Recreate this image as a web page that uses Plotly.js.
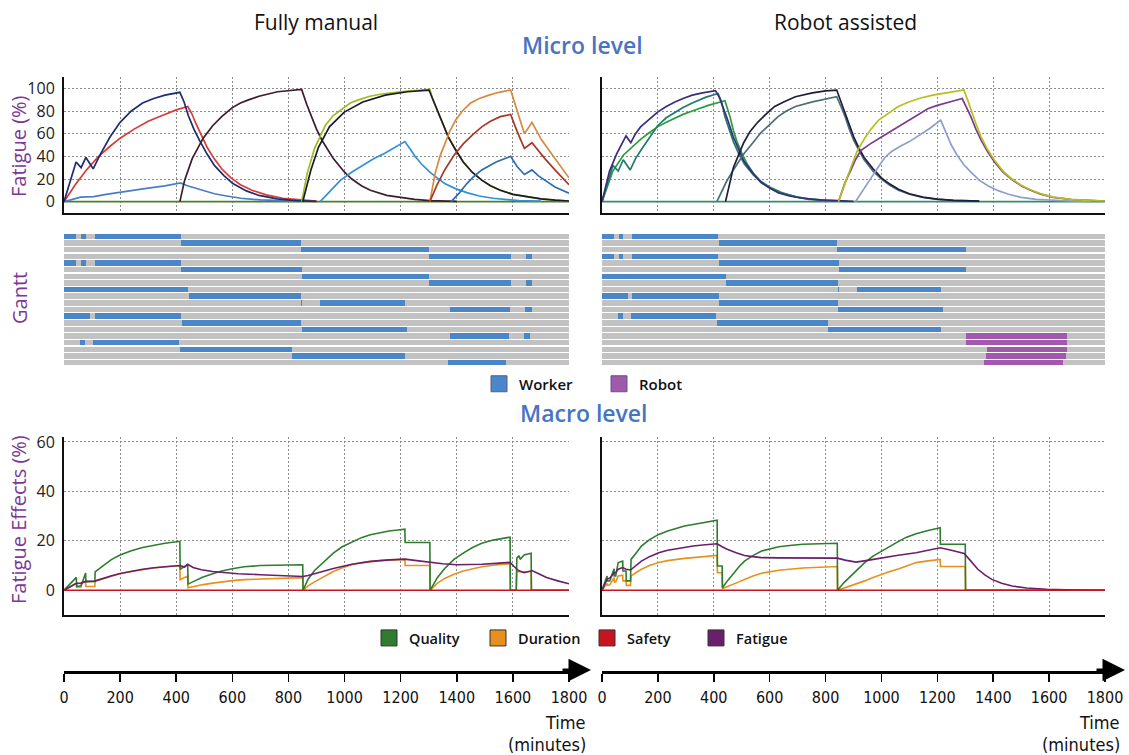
<!DOCTYPE html>
<html><head><meta charset="utf-8">
<script src="https://cdn.plot.ly/plotly-3.0.1.min.js"></script>
<style>html,body{margin:0;padding:0;background:#fff}#chart{width:1129px;height:755px}</style>
</head><body><div id="chart"></div>
<script>
// ---------- Micro level: fatigue per worker, fully manual (time min, fatigue %) ----------
const manualF1 = [[0,0],[43,35],[61,30],[78,39],[104,29],[128,41],[164,57],[200,70],[240,80],[280,87],[320,91],[360,94],[413,96.5],[428,88],[443,76],[463,64],[483,54],[510,42],[536,32],[570,23],[602,16],[650,9.5],[695,5.5],[760,2.5],[827,1],[900,0.3]];
const manualF2 = [[0,0],[40,15],[80,28],[120,39],[160,48],[200,56],[250,64],[300,71],[350,76],[400,81],[441,84],[455,78],[470,69],[490,58],[510,48],[535,38],[562,29],[595,21],[629,15],[670,10],[721,6],[780,3],[840,1.5],[900,0.5]];
const manualF3 = [[0,0],[40,2.5],[60,4],[80,4.2],[106,4.5],[150,6.5],[200,8.5],[250,10.5],[300,12],[360,14],[415,16.5],[440,14],[470,12],[500,9.5],[536,7],[580,5],[630,3],[700,1.5],[780,0.5],[850,0.2]];
const manualF4 = [[413,0],[430,19],[457,38],[496,56],[530,67],[562,75],[600,83],[629,87],[660,90],[695,93],[761,97],[847,99],[865,86],[880,76],[900,64],[920,54],[960,38],[1000,26],[1026,20],[1060,14],[1092,10],[1150,5.5],[1198,3.5],[1250,2],[1304,1],[1400,0.3]];
const manualF5 = [[847,0],[867,25],[893,47],[933,68],[960,76],[986,81],[1020,87],[1052,90],[1090,93],[1132,95],[1180,96.5],[1224,97.6],[1260,98.3],[1304,99],[1315,90],[1330,81],[1350,68],[1370,57],[1395,46],[1423,35],[1455,26],[1489,19],[1520,14],[1555,10],[1600,6.5],[1648,4.4],[1700,2.5],[1750,1.3],[1800,0.6]];
const manualF6 = [[851,0],[880,28],[907,48],[946,66],[999,79],[1065,88],[1145,94],[1224,97],[1301,98.5],[1315,90],[1330,81],[1350,68],[1370,57],[1395,46],[1423,35],[1455,26],[1489,19],[1520,14],[1555,10],[1600,6.5],[1648,4.4],[1700,2.5],[1750,1.3],[1800,0.6]];
const manualF7 = [[913,0],[950,10],[986,19],[1025,26],[1065,32],[1105,38],[1145,43],[1180,48],[1215,53],[1235,46],[1251,40],[1275,33],[1304,26],[1330,21],[1357,16],[1395,11.5],[1436,8],[1480,5],[1529,3],[1580,1.8],[1621,1],[1700,0.4]];
const manualF8 = [[1304,0],[1315,15],[1323,25],[1340,40],[1357,51],[1375,62],[1396,72],[1420,80],[1449,87],[1480,91],[1515,94],[1550,96.5],[1592,98.5],[1605,88],[1620,75],[1641,60],[1668,70],[1685,62],[1701,55],[1730,45],[1754,37],[1780,28],[1800,21]];
const manualF9 = [[1304,0],[1330,15],[1357,28],[1390,41],[1423,51],[1456,59],[1489,66],[1520,71],[1555,75],[1592,77],[1615,62],[1641,47],[1668,52],[1690,45],[1714,38],[1750,28],[1800,15]];
const manualF10 = [[1380,0],[1410,8],[1436,16],[1460,22],[1489,28],[1540,35],[1592,40],[1615,31],[1641,24],[1668,28],[1690,23],[1714,19],[1750,13],[1800,7.5]];
const manualBase = [[0,0],[1800,0]];

// ---------- Micro level: fatigue, robot assisted ----------
const robotF1 = [[0,0],[27,27],[52,42],[70,51],[86,58],[103,52],[120,60],[138,66],[170,73],[199,79],[230,84],[261,88],[290,91],[323,94],[360,96],[406,98],[420,92],[433,84],[450,72],[470,57],[490,45],[507,36],[540,25],[569,17],[600,12],[630,8],[670,5],[717,3],[780,1.5],[840,0.6],[900,0.2]];
const robotF2 = [[0,0],[39,32],[58,27],[76,37],[101,28],[120,38],[138,45],[170,57],[199,67],[230,74],[261,79],[290,83],[323,87],[370,92],[415,95.5],[428,88],[440,75],[455,63],[470,53],[490,42],[510,33],[540,24],[569,17],[600,12],[643,7.5],[700,4],[741,2.5],[800,1.2],[870,0.4]];
const robotF3 = [[0,0],[39,27],[76,41],[110,49],[138,55],[170,61],[199,66],[230,70],[261,74],[290,77],[323,80],[380,85],[440,89],[450,82],[458,75],[470,63],[483,53],[500,43],[520,33],[545,24],[569,18],[600,13],[643,8],[690,4.5],[741,2],[800,1],[880,0.3]];
const robotF4 = [[442,0],[455,15],[470,30],[490,42],[507,52],[530,62],[557,70],[590,78],[618,84],[650,88],[692,92.6],[753,96],[800,97.8],[840,98.5],[855,88],[870,78],[885,67],[901,57],[920,47],[938,39],[970,29],[1000,21],[1030,15.5],[1061,11],[1100,7],[1148,4],[1200,2.2],[1258,1.2],[1350,0.4]];
const robotF5 = [[411,0],[430,10],[446,18],[470,28],[507,42],[540,52],[569,61],[600,68],[630,75],[660,80],[692,84],[753,88],[800,90.5],[840,92.6],[855,84],[870,75],[885,64],[901,54],[920,45],[938,37],[970,27],[1000,20],[1030,14.5],[1061,10],[1100,6.5],[1148,3.7],[1200,2],[1258,1.1],[1350,0.4]];
const robotF6 = [[846,0],[860,10],[877,21],[895,33],[914,45],[940,56],[963,64],[990,72],[1024,78],[1060,84],[1098,88],[1140,91.5],[1184,94],[1240,96.5],[1295,98.5],[1308,90],[1320,81],[1338,69],[1357,57],[1380,46],[1406,36],[1435,27],[1467,20],[1500,14.5],[1529,11],[1570,7],[1615,4],[1680,2],[1738,1.2],[1800,0.6]];
const robotF7 = [[846,0],[870,17],[889,27],[907,37],[926,45],[960,51],[1000,57],[1040,63],[1086,70],[1125,76],[1166,82],[1200,85],[1234,87],[1260,89],[1289,91],[1305,83],[1320,75],[1338,64],[1357,54],[1380,44],[1406,34.5],[1435,26],[1467,19.5],[1500,14],[1529,10.5],[1570,6.7],[1615,3.8],[1680,1.9],[1738,1.1],[1800,0.5]];
const robotF8 = [[907,0],[935,10],[963,21],[990,31],[1012,39],[1035,44],[1061,48],[1100,53],[1135,58.5],[1175,65],[1212,72],[1222,66],[1234,58.5],[1250,50],[1271,41],[1295,32.5],[1320,26],[1350,19],[1381,14],[1420,9.5],[1455,6.5],[1500,3.8],[1554,2],[1610,1.1],[1677,0.6],[1750,0.3]];
const robotBase = [[0,0],[1800,0]];

// ---------- Gantt (row, start, end in minutes) ----------
const ganttRows = [1,2,3,4,5,6,7,8,9,10,11,12,13,14,15,16,17,18,19,20];
const ganttHorizon = 1800;
const manualRow   = [1,1,1,2,3,4,4,5,5,5,6,7,8,8,9,10,11,11,12,12,13,13,14,15,16,16,17,17,18,19,20];
const manualStart = [0,61,110,417,844,1302,1645,0,61,110,417,850,1302,1645,0,444,844,912,1377,1644,0,110,419,848,1375,1640,58,104,412,812,1368];
const manualEnd   = [44,77,416,843,1302,1593,1668,44,77,416,850,1302,1593,1668,442,845,850,1216,1590,1667,91,417,846,1223,1587,1661,74,411,811,1216,1577];
const robotWorkerRow   = [1,1,1,2,3,4,4,4,5,6,7,8,9,9,10,10,11,12,13,13,14,15];
const robotWorkerStart = [0,62,108,417,842,0,62,108,417,848,0,444,843,912,0,108,417,846,59,105,410,810];
const robotWorkerEnd   = [43,76,416,841,1301,43,76,416,848,1301,444,843,849,1214,92,417,846,1221,75,409,810,1214];
const robotTaskRow   = [16,17,18,19,20];
const robotTaskStart = [1301,1301,1377,1374,1366];
const robotTaskEnd   = [1665,1665,1665,1661,1650];

// ---------- Macro level: fatigue effects (%) ----------
const manualQuality = [[0,0],[44,5.2],[45,1.5],[61,1.8],[77,7],[78,3.5],[110,3.6],[111,7.4],[140,10],[170,12.5],[200,14.3],[240,16],[280,17.3],[320,18.3],[360,19],[413,19.8],[414,8.5],[441,10.5],[442,2.5],[470,4],[496,5.4],[530,6.7],[562,7.8],[600,8.7],[642,9.5],[700,10],[760,10.2],[851,10.3],[852,0],[870,4.5],[893,8],[925,11.5],[960,15],[990,17.5],[1026,19.6],[1060,21.3],[1092,22.5],[1125,23.3],[1158,24],[1190,24.4],[1215,24.7],[1216,19.3],[1304,19.3],[1305,0],[1330,5],[1357,8.8],[1390,12.5],[1423,15],[1456,17.3],[1489,19],[1530,20.3],[1590,21.5],[1591,0],[1612,0],[1614,13],[1622,14],[1626,12.5],[1640,14.3],[1665,15],[1666,0],[1800,0]];
const manualDuration = [[0,0],[44,2.8],[45,1.3],[61,1.3],[62,2.9],[77,3.5],[78,1.5],[110,1.5],[111,3.8],[140,4.8],[170,5.8],[200,6.7],[240,7.6],[280,8.4],[320,9],[360,9.5],[413,9.9],[414,4.3],[441,5.8],[442,1],[470,1.7],[496,2.3],[530,2.9],[562,3.4],[600,3.9],[642,4.3],[700,4.6],[760,4.9],[851,5.1],[852,0],[870,1.8],[893,3.4],[925,5.5],[960,7.6],[990,9],[1026,10.3],[1060,11.1],[1092,11.6],[1125,12],[1158,12.2],[1215,12.5],[1216,10],[1304,10],[1305,0],[1330,2.8],[1357,4.8],[1390,6.5],[1423,7.8],[1456,8.8],[1489,9.5],[1530,10.1],[1590,10.8],[1591,0],[1612,0],[1614,7.5],[1665,7.5],[1666,0],[1800,0]];
const manualSafety = [[0,0],[1800,0]];
const manualFatigue = [[0,0],[44,2.8],[61,2.9],[77,3.6],[110,3.7],[140,4.9],[170,5.9],[200,6.8],[240,7.7],[280,8.5],[320,9.1],[360,9.6],[413,10],[430,9.4],[441,10.5],[460,9.2],[490,8.3],[530,7.6],[570,7.1],[620,6.7],[700,6.3],[780,5.9],[851,5.6],[870,6],[900,7],[960,8.8],[1026,10.5],[1092,11.7],[1160,12.3],[1215,12.6],[1250,12.1],[1304,11.3],[1350,10.7],[1400,10.3],[1450,10.3],[1489,10.5],[1540,10.9],[1590,11.3],[1605,9.5],[1620,8],[1640,7.1],[1655,7.6],[1668,8],[1690,6.8],[1720,5.2],[1760,3.8],[1800,2.6]];
const robotQuality = [[0,0],[18,5.8],[19,3.8],[28,3.8],[43,8.7],[44,5.8],[49,5.8],[58,11.2],[74,11.8],[75,7.8],[86,7.8],[87,3.8],[102,3.8],[104,12.5],[125,15.5],[141,17.9],[170,20.5],[203,22.6],[235,24],[264,25],[295,26],[326,26.6],[370,27.5],[412,28.3],[413,9.8],[430,9.8],[431,1],[450,4],[473,7.1],[490,9.5],[510,11.8],[540,14],[571,15.9],[600,16.8],[633,17.6],[680,18.2],[719,18.6],[780,18.8],[842,19],[843,0],[865,3],[891,5.8],[915,8.5],[940,11.2],[970,13.8],[1001,15.9],[1030,18],[1063,19.9],[1090,21.5],[1124,22.9],[1160,24],[1210,25.3],[1211,18.6],[1300,18.6],[1301,0],[1800,0]];
const robotDuration = [[0,0],[18,2.8],[19,2],[28,2.2],[43,5.1],[44,3.4],[49,3.4],[58,5.8],[74,6.1],[75,3.8],[86,3.8],[87,2],[102,2],[104,5.8],[125,7.4],[141,8.5],[170,10],[203,11.2],[235,12],[264,12.5],[295,12.9],[326,13.2],[370,13.7],[412,14.1],[413,7.1],[430,7.1],[431,0.7],[450,1.5],[473,2.4],[490,3.4],[510,4.4],[540,5.8],[571,6.9],[600,7.5],[633,8.1],[680,8.6],[719,9],[780,9.3],[842,9.6],[843,0],[865,0.8],[891,1.7],[915,2.7],[940,3.8],[970,5.2],[1001,6.5],[1030,7.6],[1063,8.7],[1090,9.9],[1124,11.2],[1160,11.8],[1210,12.5],[1211,9.6],[1300,9.6],[1301,0],[1800,0]];
const robotSafety = [[0,0],[1800,0]];
const robotFatigue = [[0,0],[18,4.4],[28,5],[43,6.9],[49,7.2],[58,8.5],[74,9.2],[86,8.5],[102,8.2],[120,10],[141,11.8],[170,13.6],[203,15.2],[235,16.2],[264,16.8],[295,17.4],[326,17.9],[370,18.4],[412,18.8],[430,17.6],[448,16.6],[480,15.2],[510,14.1],[540,13.6],[571,13.2],[630,13.1],[694,13.1],[780,13.1],[842,13],[870,12.2],[909,11.4],[950,12.1],[1001,13.2],[1060,14.2],[1124,15.2],[1170,16.3],[1210,17.2],[1250,16.2],[1296,14.9],[1320,11.8],[1345,8.5],[1370,6.2],[1395,4.4],[1430,2.8],[1468,1.7],[1520,0.9],[1591,0.4],[1700,0.1],[1800,0]];

// ---------- labels ----------
const timeTicks = [0,200,400,600,800,1000,1200,1400,1600,1800];
const fatigueTicks = [0,20,40,60,80,100];
const effectTicks = [0,20,40,60];
const effectNames = ['Quality','Duration','Safety','Fatigue'];
const effectColors = ['#2E7D2E','#E8901E','#C8141E','#6B1E6B'];
const ganttNames = ['Worker','Robot'];
const ganttColors = ['#4A86C8','#A05AAB'];

// ---------- helpers ----------
const W = 1129, H = 755;
const px = v => v / W, py = v => 1 - v / H;
const F = 'Open Sans, Noto Sans, sans-serif';
const FC = 'Liberation Sans Narrow, DejaVu Sans Condensed, sans-serif';

function line(pts, color, xa, ya, w) {
  return {type:'scatter', mode:'lines', x: pts.map(p => p[0]), y: pts.map(p => p[1]),
    xaxis: xa, yaxis: ya, line: {color: color, width: w || 1.7}, showlegend: false, hoverinfo: 'skip'};
}
function bars(rows, starts, ends, color, xa, ya) {
  return {type:'bar', orientation:'h', y: rows, base: starts, x: ends.map((e, i) => e - starts[i]),
    xaxis: xa, yaxis: ya, width: 0.82, marker: {color: color, line: {width: 0}}, showlegend: false, hoverinfo: 'skip'};
}

const traces = [];
// top-left
[[manualBase,'#4E7F2A'],[manualF3,'#4A7EC4'],[manualF2,'#D93A35'],[manualF1,'#1F2C6E'],[manualF4,'#3F1B30'],
 [manualF5,'#9DBD24'],[manualF6,'#1B1B2B'],[manualF7,'#2F92D5'],[manualF8,'#D68A40'],[manualF9,'#A83829'],[manualF10,'#2D6DB5']]
 .forEach(s => traces.push(line(s[0], s[1], 'x', 'y')));
// top-right
[[robotBase,'#3A8A6A'],[robotF3,'#2E9A40'],[robotF2,'#1E7B6D'],[robotF1,'#3B2B80'],[robotF5,'#4D6D79'],[robotF4,'#1D1D3F'],
 [robotF8,'#8D9FCB'],[robotF7,'#7D3A8D'],[robotF6,'#B6BF20']]
 .forEach(s => traces.push(line(s[0], s[1], 'x2', 'y2')));
// gantt
const grayBg = {type:'bar', orientation:'h', y: ganttRows, base: ganttRows.map(() => 0), x: ganttRows.map(() => ganttHorizon),
  width: 0.82, marker: {color: '#C2C2C2', line: {width: 0}}, showlegend: false, hoverinfo: 'skip'};
traces.push(Object.assign({}, grayBg, {xaxis:'x3', yaxis:'y3'}));
traces.push(bars(manualRow, manualStart, manualEnd, ganttColors[0], 'x3', 'y3'));
traces.push(Object.assign({}, grayBg, {xaxis:'x4', yaxis:'y4'}));
traces.push(bars(robotWorkerRow, robotWorkerStart, robotWorkerEnd, ganttColors[0], 'x4', 'y4'));
traces.push(bars(robotTaskRow, robotTaskStart, robotTaskEnd, ganttColors[1], 'x4', 'y4'));
// bottom
[[manualDuration,1],[manualQuality,0],[manualFatigue,3],[manualSafety,2]].forEach(s => traces.push(line(s[0], effectColors[s[1]], 'x5', 'y5', 1.6)));
[[robotDuration,1],[robotQuality,0],[robotFatigue,3],[robotSafety,2]].forEach(s => traces.push(line(s[0], effectColors[s[1]], 'x6', 'y6', 1.6)));
// time axes (empty traces so that the axes are drawn)
traces.push({type:'scatter', mode:'lines', x:[null], y:[null], xaxis:'x7', yaxis:'y7', showlegend:false, hoverinfo:'skip'});
traces.push({type:'scatter', mode:'lines', x:[null], y:[null], xaxis:'x8', yaxis:'y8', showlegend:false, hoverinfo:'skip'});
// legend entries
ganttNames.forEach((n, i) => traces.push({type:'scatter', mode:'markers', x:[null], y:[null], name:n, legend:'legend',
  marker:{symbol:'square', size:18, color:ganttColors[i], line:{width:1, color:'#5a5a8a'}}, hoverinfo:'skip'}));
effectNames.forEach((n, i) => traces.push({type:'scatter', mode:'markers', x:[null], y:[null], name:n, legend:'legend2',
  marker:{symbol:'square', size:18, color:effectColors[i], line:{width:1, color:'#333'}}, hoverinfo:'skip'}));

const gridX = {range:[0,1800], tickvals: timeTicks, showgrid:true, gridcolor:'#8c8c8c', griddash:'2px,2px', gridwidth:1,
  showticklabels:false, ticks:'', showline:true, linecolor:'#111', linewidth:2, zeroline:false, fixedrange:true};
const gridY = (range, ticks, labels) => ({range: range, tickvals: ticks, showgrid:true, gridcolor:'#8c8c8c', griddash:'2px,2px',
  gridwidth:1, showticklabels: labels, ticks:'', ticklabelstandoff:4, tickfont:{family:F, size:16, color:'#222'},
  showline:true, linecolor:'#111', linewidth:2, zeroline:false, fixedrange:true});
const LX = [px(64), px(569)], RX = [px(602), px(1105)];
const topY = [py(213), py(77)], ganttY = [py(366), py(233)], botY = [py(615), py(437)], timeY = [py(671), py(670)];
const hidden = {visible:false, fixedrange:true};
const timeX = {range:[0,1800], tickvals: timeTicks, showgrid:false, zeroline:false, showline:true, linecolor:'#000', linewidth:3,
  ticks:'outside', ticklen:8, tickwidth:1.5, tickcolor:'#000', ticklabelstandoff:2, tickfont:{family:FC, size:16, color:'#111'}, fixedrange:true};

const ann = (text, x, y, opts) => Object.assign({text: text, xref:'paper', yref:'paper', x: px(x), y: py(y), showarrow:false,
  xanchor:'center', yanchor:'middle', font:{family:F, size:21, color:'#111'}}, opts || {});
const purple = '#7B3894', blue = '#4874C4';
const annotations = [
  ann('Fully manual', 316, 22),
  ann('Robot assisted', 845, 22),
  ann('Micro level', 583, 45, {font:{family:F, size:23, color:blue, weight:600}}),
  ann('Macro level', 584, 413, {font:{family:F, size:23, color:blue, weight:600}}),
  ann('Fatigue (%)', 18, 146, {textangle:-90, font:{family:F, size:20, color:purple}}),
  ann('Gantt', 20, 298, {textangle:-90, font:{family:F, size:20, color:purple}}),
  ann('Fatigue Effects (%)', 18, 520, {textangle:-90, font:{family:F, size:20, color:purple}}),
  ann('Time', 588, 722, {xanchor:'right', font:{family:FC, size:18, color:'#111'}}),
  ann('(minutes)', 588, 744, {xanchor:'right', font:{family:FC, size:18, color:'#111'}}),
  ann('Time', 1122, 722, {xanchor:'right', font:{family:FC, size:18, color:'#111'}}),
  ann('(minutes)', 1122, 744, {xanchor:'right', font:{family:FC, size:18, color:'#111'}}),
  {text:'', xref:'paper', yref:'paper', x: px(591), y: py(670), ax:-30, ay:0, showarrow:true, arrowhead:2, arrowsize:1.5, arrowwidth:3, arrowcolor:'#000'},
  {text:'', xref:'paper', yref:'paper', x: px(1125), y: py(670), ax:-30, ay:0, showarrow:true, arrowhead:2, arrowsize:1.5, arrowwidth:3, arrowcolor:'#000'}
];

const layout = {
  width: W, height: H, margin:{l:0, r:0, t:0, b:0}, paper_bgcolor:'#fff', plot_bgcolor:'rgba(0,0,0,0)',
  barmode:'overlay', bargap:0,
  xaxis: Object.assign({}, gridX, {domain: LX, anchor:'y'}),
  yaxis: Object.assign(gridY([-10,110], fatigueTicks, true), {domain: topY, anchor:'x'}),
  xaxis2: Object.assign({}, gridX, {domain: RX, anchor:'y2'}),
  yaxis2: Object.assign(gridY([-10,110], fatigueTicks, false), {domain: topY, anchor:'x2'}),
  xaxis3: Object.assign({}, hidden, {domain: LX, anchor:'y3', range:[0,1800]}),
  yaxis3: Object.assign({}, hidden, {domain: ganttY, anchor:'x3', range:[20.5,0.5]}),
  xaxis4: Object.assign({}, hidden, {domain: RX, anchor:'y4', range:[0,1800]}),
  yaxis4: Object.assign({}, hidden, {domain: ganttY, anchor:'x4', range:[20.5,0.5]}),
  xaxis5: Object.assign({}, gridX, {domain: LX, anchor:'y5'}),
  yaxis5: Object.assign(gridY([-10,62], effectTicks, true), {domain: botY, anchor:'x5'}),
  xaxis6: Object.assign({}, gridX, {domain: RX, anchor:'y6'}),
  yaxis6: Object.assign(gridY([-10,62], effectTicks, false), {domain: botY, anchor:'x6'}),
  xaxis7: Object.assign({}, timeX, {domain: LX, anchor:'y7'}),
  yaxis7: Object.assign({}, hidden, {domain: timeY, anchor:'x7', range:[0,1]}),
  xaxis8: Object.assign({}, timeX, {domain: RX, anchor:'y8'}),
  yaxis8: Object.assign({}, hidden, {domain: timeY, anchor:'x8', range:[0,1]}),
  legend: {orientation:'h', x: px(479), y: py(384), xanchor:'left', yanchor:'middle', entrywidth:75, entrywidthmode:'pixels',
    itemsizing:'trace', bgcolor:'rgba(0,0,0,0)', font:{family:F, size:15, color:'#111', weight:600}},
  legend2: {orientation:'h', x: px(369), y: py(638), xanchor:'left', yanchor:'middle', entrywidth:64, entrywidthmode:'pixels',
    itemsizing:'trace', bgcolor:'rgba(0,0,0,0)', font:{family:F, size:14.5, color:'#111', weight:600}},
  annotations: annotations
};

Plotly.newPlot('chart', traces, layout, {displayModeBar:false, staticPlot:true});
</script></body></html>
